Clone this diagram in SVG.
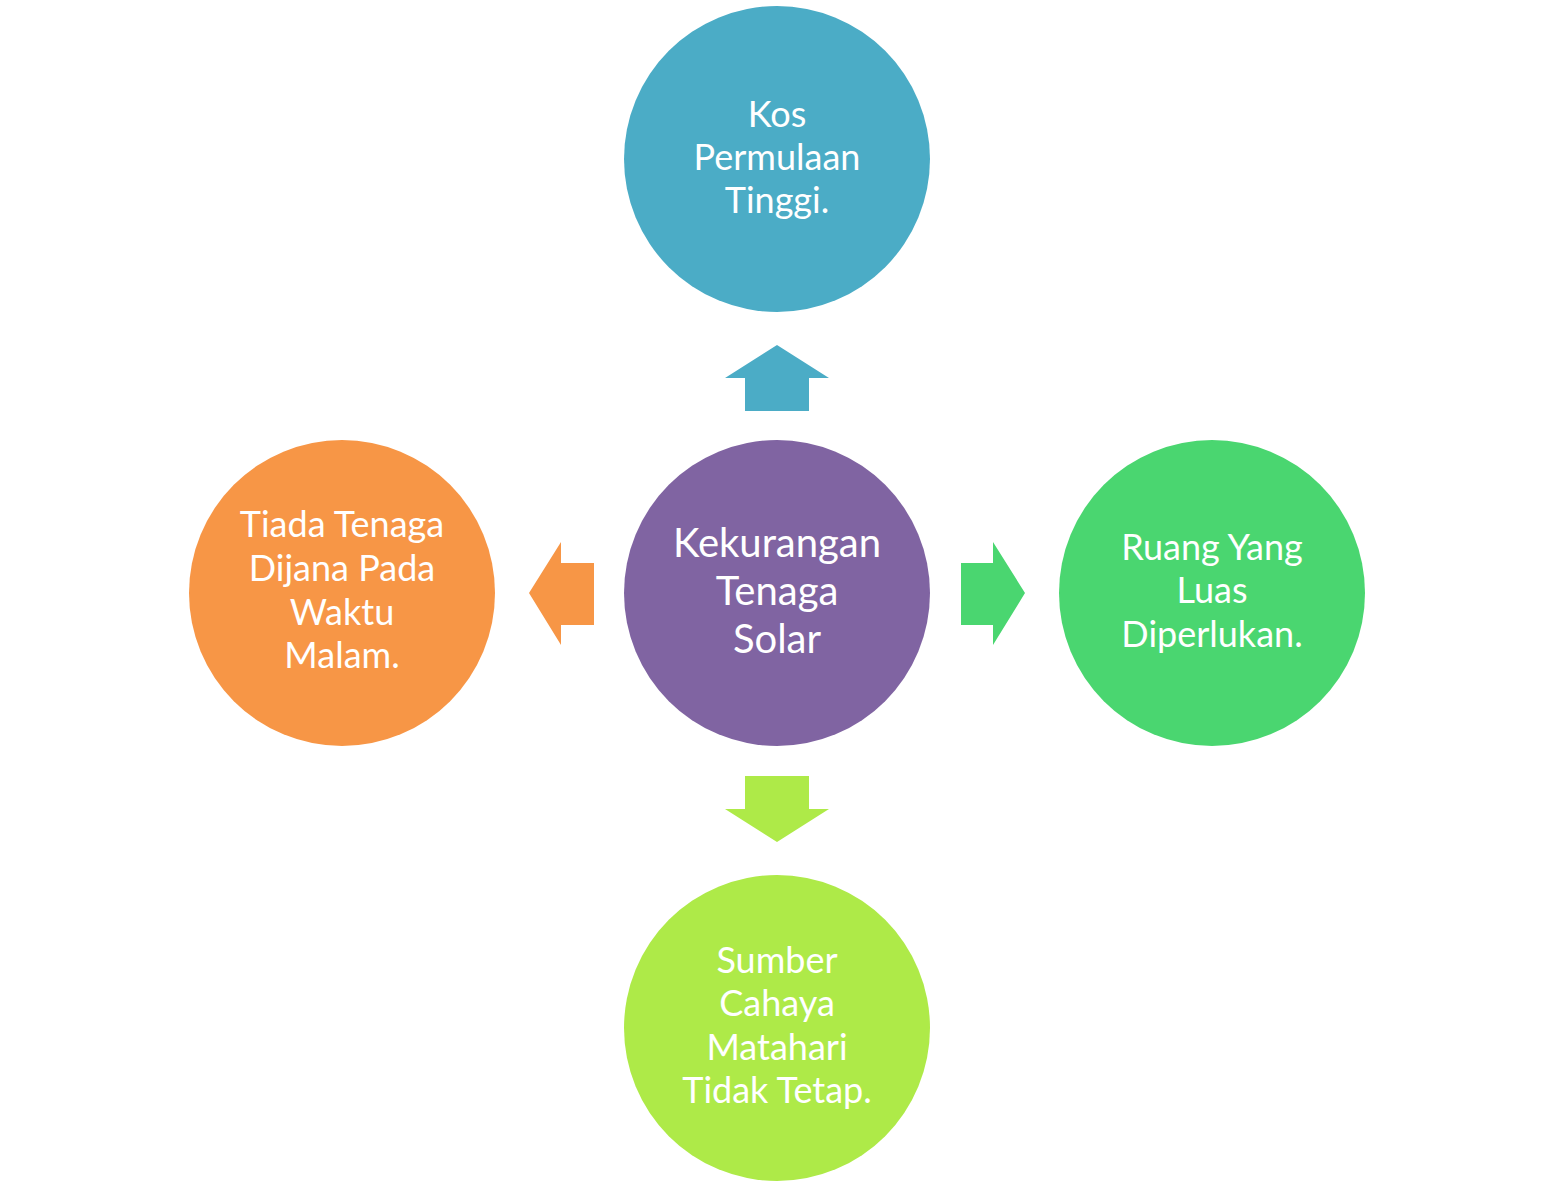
<svg xmlns="http://www.w3.org/2000/svg" width="1554" height="1187" viewBox="0 0 1554 1187">
<style>
text{font-family:Lato,"Open Sans","Liberation Sans",sans-serif;fill:#FFFFFF;text-anchor:middle;font-size:36px}
.big{font-size:40px}
</style>
<rect width="1554" height="1187" fill="#FFFFFF"/>
<g id="connectors">
<polygon id="arrow-up" points="777,345 829,378 809,378 809,411 745,411 745,378 725,378" fill="#4BACC6"/>
<polygon id="arrow-down" points="777,842 829,809 809,809 809,776 745,776 745,809 725,809" fill="#AEEA48"/>
<polygon id="arrow-left" points="529,593 561,542 561,563 594,563 594,625 561,625 561,645" fill="#F79646"/>
<polygon id="arrow-right" points="1025,593 993,542 993,563 961,563 961,625 993,625 993,645" fill="#4AD670"/>
</g>
<g id="node-center">
<circle cx="777" cy="593" r="153" fill="#8064A2"/>
<text class="big" x="777" y="557">Kekurangan</text>
<text class="big" x="777" y="605">Tenaga</text>
<text class="big" x="777" y="653">Solar</text>
</g>
<g id="node-top">
<circle cx="777" cy="159" r="153" fill="#4BACC6"/>
<text x="777" y="127">Kos</text>
<text x="777" y="170">Permulaan</text>
<text x="777" y="213">Tinggi.</text>
</g>
<g id="node-left">
<circle cx="342" cy="593" r="153" fill="#F79646"/>
<text x="342" y="537">Tiada Tenaga</text>
<text x="342" y="581">Dijana Pada</text>
<text x="342" y="625">Waktu</text>
<text x="342" y="668">Malam.</text>
</g>
<g id="node-right">
<circle cx="1212" cy="593" r="153" fill="#4AD670"/>
<text x="1212" y="560">Ruang Yang</text>
<text x="1212" y="603">Luas</text>
<text x="1212" y="647">Diperlukan.</text>
</g>
<g id="node-bottom">
<circle cx="777" cy="1028" r="153" fill="#AEEA48"/>
<text x="777" y="973">Sumber</text>
<text x="777" y="1016">Cahaya</text>
<text x="777" y="1060">Matahari</text>
<text x="777" y="1103">Tidak Tetap.</text>
</g>
</svg>
